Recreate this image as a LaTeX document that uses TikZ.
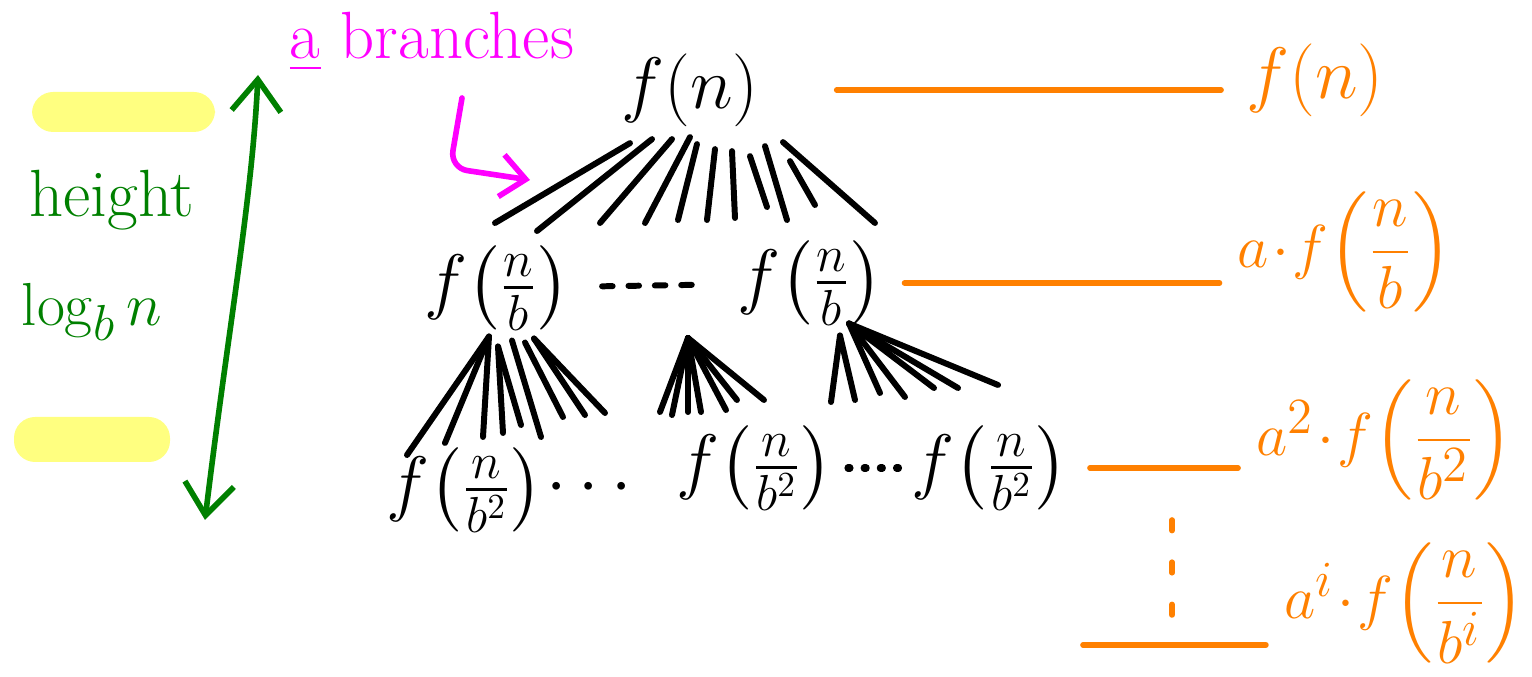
\documentclass[tikz,border=0pt]{standalone}
\usepackage{amsmath,amssymb}
\usepackage{xcolor}
\usepackage{tikz}
\usetikzlibrary{arrows.meta,positioning,calc}

\definecolor{treeorange}{RGB}{255,128,0}
\definecolor{branchpink}{RGB}{255,0,255}
\definecolor{heightgreen}{RGB}{0,128,0}
\definecolor{markyellow}{RGB}{255,255,128}

\begin{document}
\begin{tikzpicture}[x=0.01cm, y=-0.01cm,
    term/.style={font=\fontsize{20}{24}\selectfont, inner sep=2pt},
    cost/.style={font=\fontsize{19}{23}\selectfont, text=treeorange, inner sep=1pt},
    note/.style={font=\fontsize{19}{23}\selectfont, inner sep=2pt},
    branch/.style={line width=1.7pt, line cap=round},
    level/.style={line width=1.6pt, line cap=round, draw=treeorange}]
  \useasboundingbox (0,0) rectangle (1532,677);

  % Highlights
  \fill[markyellow, rounded corners=6pt] (32,92) rectangle (215,132);
  \fill[markyellow, rounded corners=6pt] (14,417) rectangle (170,462);

  % Height of the tree
  \coordinate (htop) at (258,75);
  \coordinate (hbot) at (205,520);
  \draw[heightgreen, line width=1.6pt, line cap=round,
        {Straight Barb[length=9pt,width=14pt]}-{Straight Barb[length=9pt,width=14pt]}]
    (hbot) .. controls (228,330) and (252,200) .. (htop);
  \node[note, heightgreen] (height) at (112,200) {height};
  \node[note, heightgreen] (logn) at (92,312) {$\log_b n$};

  % Branch label
  \node[note, branchpink] (branches) at (432,42) {\underline{a} branches};
  \coordinate (bstart) at (462,98);
  \coordinate (bend) at (530,180);
  \draw[branchpink, line width=1.6pt, line cap=round, rounded corners=5pt,
        -{Straight Barb[length=7pt,width=12pt]}]
    (bstart) -- (450,168) -- (bend);

  % Tree
  \node[term, font=\fontsize{22}{26}\selectfont] (root) at (690,90) {$f(n)$};
  \node[term] (left1) at (497,288) {$f\mathopen{}\left(\frac{n}{b}\right)$};
  \node[term] (right1) at (810,283) {$f\mathopen{}\left(\frac{n}{b}\right)$};
  \draw[branch, dash pattern=on 3pt off 4.5pt, shorten <=7pt, shorten >=7pt] (left1) -- (right1);

  \node[term] (left2) at (465,490) {$f\mathopen{}\left(\frac{n}{b^2}\right)$};
  \node[term] (mid2) at (755,468) {$f\mathopen{}\left(\frac{n}{b^2}\right)$};
  \node[term] (right2) at (990,468) {$f\mathopen{}\left(\frac{n}{b^2}\right)$};
  \node[term] (gap2) at (595,488) {$\cdots$};
  \draw[branch, line width=2pt, dash pattern=on 0.6pt off 4pt, shorten <=2pt, shorten >=1pt] (mid2) -- (right2);

  % Branches of the root
  \foreach \dx/\dy/\bx/\by [count=\i] in {-60/9/495/223, -38/5/537/231, -18/5/600/223,
      0/3/645/223, 7/10/678/220, 25/15/707/220, 42/17/735/218, 60/22/767/207,
      75/12/787/220, 100/27/815/205, 93/8/875/223}{
    \coordinate (rootfan\i) at (\bx,\by);
    \draw[branch] ([shift={(\dx,\dy)}]root.south) -- (rootfan\i);
  }

  % Branches of the level-1 nodes
  \foreach \dx/\dy/\bx/\by [count=\i] in {-8/-2/407/455, -8/-2/445/443, -8/-2/483/437,
      1/8/503/433, 1/8/521/425, 15/2/541/437, 28/4/563/417, 37/0/585/415,
      37/0/605/413}{
    \coordinate (leftfan\i) at (\bx,\by);
    \draw[branch] ([shift={(\dx,\dy)}]left1.south) -- (leftfan\i);
  }
  \coordinate (midtop) at (688,338);
  \foreach \bx/\by [count=\i] in {660/412, 672/415, 688/412, 701/412, 726/410,
      737/400, 764/400}{
    \coordinate (midfan\i) at (\bx,\by);
    \draw[branch] (midtop) -- (midfan\i);
  }
  \foreach \dx/\dy/\bx/\by [count=\i] in {30/2/831/402, 30/2/855/400, 39/-10/880/393,
      39/-10/905/397, 39/-10/934/388, 39/-10/958/388, 39/-10/998/385}{
    \coordinate (rightfan\i) at (\bx,\by);
    \draw[branch] ([shift={(\dx,\dy)}]right1.south) -- (rightfan\i);
  }

  % Cost of each level
  \node[cost, font=\fontsize{22}{26}\selectfont] (cost0) at (1315,80) {$f(n)$};
  \node[cost] (cost1) at (1345,252) {$a\!\cdot\! f\mathopen{}\left(\dfrac{n}{b}\right)$};
  \node[cost] (cost2) at (1385,440) {$a^2\!\cdot\! f\mathopen{}\left(\dfrac{n}{b^2}\right)$};
  \node[cost] (costi) at (1405,603) {$a^i\!\cdot\! f\mathopen{}\left(\dfrac{n}{b^i}\right)$};

  \draw[level, shorten <=20pt, shorten >=6pt] (root.east) -- (root.east -| cost0.west);
  \draw[level, shorten <=4pt, shorten >=4pt] (right1.east) -- (right1.east -| cost1.west);
  \draw[level, shorten <=4pt, shorten >=4pt] (right2.east) -- (right2.east -| cost2.west);
  \coordinate (lvi) at (1083,645);
  \draw[level, shorten >=4pt] (lvi) -- (lvi -| costi.west);

  \coordinate (vtop) at (1172,520);
  \coordinate (vbot) at (1172,625);
  \draw[level, dash pattern=on 3pt off 9pt] (vtop) -- (vbot);
\end{tikzpicture}
\end{document}
